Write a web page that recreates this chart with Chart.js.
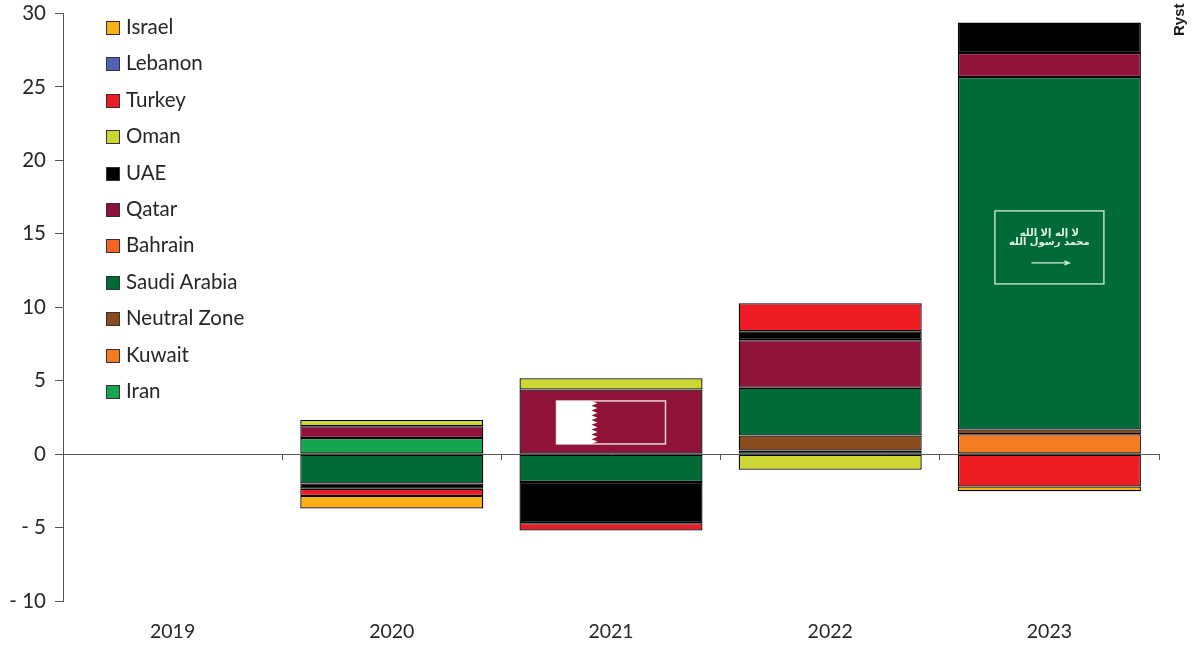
<!DOCTYPE html>
<html>
<head>
<meta charset="utf-8">
<title>Stacked bars by country</title>
<script src="https://cdn.jsdelivr.net/npm/chart.js@4"></script>
<style>
  html, body { margin: 0; padding: 0; background: #fff; }
  #wrap { position: relative; width: 1197px; height: 646px; overflow: hidden; }
  #legend { position: absolute; left: 106px; top: 8px; font: 20.5px Lato, sans-serif; color: #262626; }
  #legend div { height: 36.4px; line-height: 36.4px; white-space: nowrap; }
  #legend i { display: inline-block; width: 12px; height: 12px; margin-right: 6px; border: 1px solid #333; vertical-align: -1px; }
</style>
</head>
<body>
<div id="wrap">
  <canvas id="chart" width="1197" height="646"></canvas>
  <div id="legend"></div>
</div>
<script>
const years = ["2019", "2020", "2021", "2022", "2023"];
const yTickLabels = ["- 10", "- 5", "0", "5", "10", "15", "20", "25", "30"];

const iran        = [null, 1.1, null, 0.24, null];
const kuwait      = [null, null, null, null, 1.35];
const neutralZone = [null, null, null, 1.03, 0.33];
const saudiArabia = [null, -2.0, -1.9, 3.25, 24.0];
const bahrain     = [null, null, null, null, null];
const qatar       = [null, 0.8, 4.4, 3.24, 1.63];
const uae         = [null, -0.35, -2.8, 0.6, 2.07];
const oman        = [null, 0.42, 0.77, -1.07, null];
const turkey      = [null, -0.5, -0.5, 1.92, -2.2];
const lebanon     = [null, null, null, null, null];
const israel      = [null, -0.85, null, null, -0.33];

const series = [
  ["Iran", iran, "#14a651"],
  ["Kuwait", kuwait, "#f47b20"],
  ["Neutral Zone", neutralZone, "#8a4b1e"],
  ["Saudi Arabia", saudiArabia, "#006b36"],
  ["Bahrain", bahrain, "#f26522"],
  ["Qatar", qatar, "#8f1238"],
  ["UAE", uae, "#000000"],
  ["Oman", oman, "#cdd733"],
  ["Turkey", turkey, "#ed1c24"],
  ["Lebanon", lebanon, "#4f62b5"],
  ["Israel", israel, "#fbb116"]
];

// legend reads top-down, stack order is bottom-up
const legendDiv = document.getElementById("legend");
series.slice().reverse().forEach((s) => {
  const row = document.createElement("div");
  row.innerHTML = `<i style="background:${s[2]}"></i>${s[0]}`;
  legendDiv.appendChild(row);
});

function flagFrame(ctx, x, y, w, h, color) {
  ctx.strokeStyle = color;
  ctx.lineWidth = 1.5;
  ctx.strokeRect(x, y, w, h);
}

// national flags sit on the bar of the biggest contributor
const flagsPlugin = {
  id: "flags",
  afterDatasetsDraw(chart) {
    const ctx = chart.ctx;
    const yScale = chart.scales.y;

    // Qatar, 2021
    const qBar = chart.getDatasetMeta(5).data[2];
    const qy = yScale.getPixelForValue(3.62);
    const qx = qBar.x - 54.5;
    ctx.save();
    flagFrame(ctx, qx, qy, 109, 43, "#e9d5dc");
    ctx.fillStyle = "#fff";
    ctx.beginPath();
    ctx.moveTo(qx, qy);
    ctx.lineTo(qx + 35, qy);
    for (let i = 0; i < 9; i++) {
      ctx.lineTo(qx + 41, qy + (i + 0.5) * 43 / 9);
      ctx.lineTo(qx + 35, qy + (i + 1) * 43 / 9);
    }
    ctx.lineTo(qx, qy + 43);
    ctx.closePath();
    ctx.fill();

    // Saudi Arabia, 2023
    const sBar = chart.getDatasetMeta(3).data[4];
    const sy = yScale.getPixelForValue(16.56);
    const sx = sBar.x - 54.5;
    flagFrame(ctx, sx, sy, 109, 73, "#b5e0c4");
    ctx.fillStyle = "#e4f3e8";
    ctx.font = "bold 10px 'DejaVu Sans'";
    ctx.textAlign = "center";
    ctx.textBaseline = "middle";
    ctx.direction = "rtl";
    ctx.fillText("لا إله إلا الله", sBar.x, sy + 23);
    ctx.fillText("محمد رسول الله", sBar.x, sy + 32);
    ctx.direction = "ltr";
    ctx.strokeStyle = "#d5ecdc";
    ctx.lineWidth = 1.2;
    ctx.beginPath();
    ctx.moveTo(sBar.x - 18, sy + 52);
    ctx.lineTo(sBar.x + 20, sy + 52);
    ctx.moveTo(sBar.x + 15, sy + 50);
    ctx.lineTo(sBar.x + 20, sy + 52);
    ctx.lineTo(sBar.x + 15, sy + 54);
    ctx.stroke();

    // source credit on the right edge, runs off the top
    ctx.translate(1184, 36);
    ctx.rotate(-Math.PI / 2);
    ctx.fillStyle = "#1a1a1a";
    ctx.font = "bold 15px 'Liberation Sans'";
    ctx.textAlign = "left";
    ctx.textBaseline = "alphabetic";
    ctx.fillText("Ryst", 0, 0);
    ctx.restore();
  }
};

new Chart(document.getElementById("chart"), {
  type: "bar",
  data: {
    labels: years,
    datasets: series.map((s) => ({
      label: s[0],
      data: s[1],
      backgroundColor: s[2],
      borderColor: "#000",
      borderWidth: 1.3,
      borderSkipped: false,
      barPercentage: 0.835,
      categoryPercentage: 1
    }))
  },
  options: {
    responsive: false,
    animation: false,
    layout: { padding: { top: 13.5, bottom: 45, right: 38, left: 0 } },
    plugins: { legend: { display: false }, tooltip: { enabled: false } },
    scales: {
      x: {
        stacked: true,
        position: { y: 0 },
        z: 1,
        afterFit(scale) { scale.paddingLeft = 0; scale.paddingRight = 0; },
        border: { color: "#555", width: 1 },
        grid: { drawOnChartArea: false, color: "#555", tickLength: 5 },
        ticks: { color: "#262626", font: { family: "Lato", size: 19.5 }, padding: 161, maxRotation: 0 }
      },
      y: {
        stacked: true,
        min: -10,
        max: 30,
        afterFit(scale) { scale.width = 63; scale.paddingTop = 0; scale.paddingBottom = 0; },
        border: { color: "#555", width: 1 },
        grid: { drawOnChartArea: false, color: "#555", tickLength: 8 },
        ticks: {
          stepSize: 5,
          color: "#262626",
          font: { family: "Lato", size: 20.5 },
          padding: 9,
          callback: (value, i) => yTickLabels[i]
        }
      }
    }
  },
  plugins: [flagsPlugin]
});
</script>
</body>
</html>
